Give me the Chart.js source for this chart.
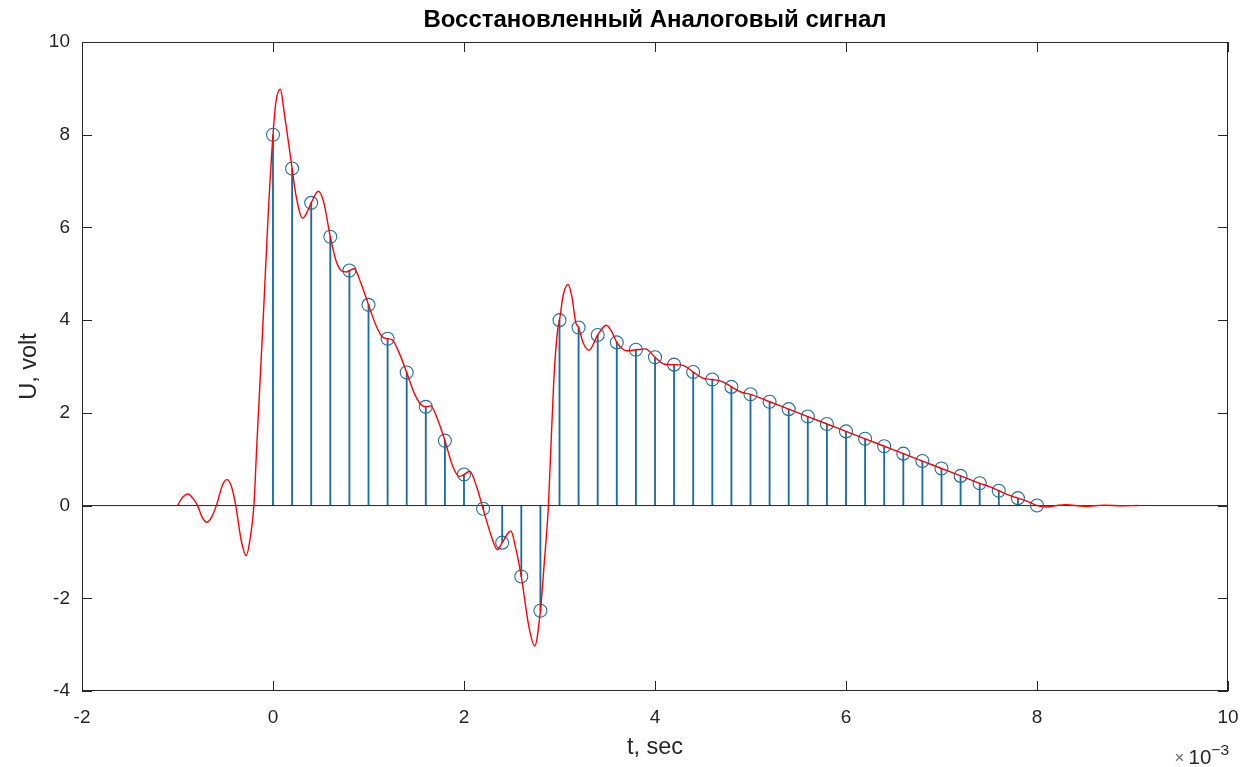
<!DOCTYPE html>
<html>
<head>
<meta charset="utf-8">
<title>Восстановленный Аналоговый сигнал</title>
<script src="https://cdn.jsdelivr.net/npm/chart.js@4.4.1/dist/chart.umd.min.js"></script>
<style>
  html, body { margin: 0; padding: 0; background: #fff; overflow: hidden; }
</style>
</head>
<body>
<canvas id="signalChart" width="1259" height="767"></canvas>
<script>
// Samples (t in ms, U in volts)
const sampleTimes = [0, 0.2, 0.4, 0.6, 0.8, 1, 1.2, 1.4, 1.6, 1.8, 2, 2.2, 2.4, 2.6, 2.8,
  3, 3.2, 3.4, 3.6, 3.8, 4, 4.2, 4.4, 4.6, 4.8, 5, 5.2, 5.4, 5.6, 5.8, 6, 6.2, 6.4, 6.6,
  6.8, 7, 7.2, 7.4, 7.6, 7.8, 8];
const sampleValues = [8, 7.27, 6.53, 5.8, 5.07, 4.33, 3.6, 2.87, 2.13, 1.4, 0.67, -0.07, -0.8, -1.53, -2.27,
  4, 3.84, 3.68, 3.52, 3.36, 3.2, 3.04, 2.88, 2.72, 2.56, 2.4, 2.24, 2.08, 1.92, 1.76, 1.6, 1.44, 1.28, 1.12,
  0.96, 0.8, 0.64, 0.48, 0.32, 0.16, 0];

// Reconstructed (red) curve
const curveTimes = [-1, -0.95, -0.89, -0.84, -0.79, -0.74, -0.69, -0.64, -0.59, -0.53, -0.48, -0.43, -0.39,
  -0.33, -0.28, -0.24, -0.2, -0.17, -0.1, -0.05, 0, 0.03, 0.077, 0.12, 0.2, 0.24, 0.31, 0.36, 0.4, 0.475,
  0.53, 0.6, 0.66, 0.72, 0.77, 0.8, 0.85, 0.92, 1, 1.08, 1.15, 1.2, 1.25, 1.32, 1.4, 1.48, 1.55, 1.6, 1.65,
  1.72, 1.8, 1.88, 1.95, 2, 2.06, 2.13, 2.2, 2.28, 2.35, 2.4, 2.49, 2.545, 2.6, 2.68, 2.74, 2.8, 2.84, 2.884,
  2.94, 2.98, 3, 3.04, 3.09, 3.13, 3.17, 3.2, 3.25, 3.31, 3.4, 3.49, 3.55, 3.6, 3.7, 3.8, 3.9, 4, 4.1, 4.2,
  4.3, 4.4, 4.5, 4.6, 4.7, 4.8, 4.9, 5, 5.2, 5.4, 5.6, 5.8, 6, 6.2, 6.4, 6.6, 6.8, 7, 7.2, 7.4, 7.5, 7.6,
  7.7, 7.8, 7.9, 8, 8.1, 8.2, 8.3, 8.5, 8.7, 8.9, 9.05];
const curveValues = [0, 0.17, 0.25, 0.16, 0, -0.26, -0.36, -0.24, 0.02, 0.44, 0.56, 0.38, 0,
  -0.78, -1.08, -0.72, 0, 1.28, 4.14, 6.29, 8, 8.7, 8.98, 8.44, 7.27, 6.7, 6.2, 6.34, 6.53, 6.78,
  6.55, 5.8, 5.28, 5.06, 5.04, 5.07, 5.11, 4.8, 4.33, 3.88, 3.63, 3.6, 3.57, 3.3, 2.87, 2.42, 2.18, 2.13, 2.15,
  1.88, 1.4, 0.86, 0.63, 0.67, 0.74, 0.42, -0.07, -0.62, -0.95, -0.8, -0.55, -0.95, -1.53, -2.62, -3.03, -2.27, -1.25, 0,
  2.7, 3.78, 4, 4.55, 4.77, 4.5, 3.95, 3.84, 3.5, 3.35, 3.68, 3.89, 3.74, 3.52, 3.34, 3.36, 3.38, 3.2, 3.05, 3.04,
  3.02, 2.88, 2.75, 2.72, 2.68, 2.56, 2.45, 2.4, 2.24, 2.08, 1.92, 1.76, 1.6, 1.44, 1.28, 1.12, 0.96, 0.8, 0.64, 0.48, 0.41, 0.32,
  0.23, 0.16, 0.09, 0, -0.03, 0, 0.02, -0.015, 0.01, -0.005, 0];

const xTicks = { min: -2, max: 10, step: 2 };
const yTicks = { min: -4, max: 10, step: 2 };

const stemColor = "#1b6f9e";
const curveColor = "#ff0000";
const axisColor = "#262626";
const fontFamily = "'Liberation Sans', Arial, Helvetica, sans-serif";

const samplePoints = sampleTimes.map((t, i) => ({ x: t, y: sampleValues[i] }));
const curvePoints = curveTimes.map((t, i) => ({ x: t, y: curveValues[i] }));

// MATLAB-like box with inward ticks and the x10^-3 exponent
const matlabAxes = {
  id: "matlabAxes",
  afterDatasetsDraw(chart) {
    const { ctx, chartArea: a, scales } = chart;
    const tickLen = 10;
    ctx.save();
    ctx.strokeStyle = axisColor;
    ctx.lineWidth = 1;
    ctx.beginPath();
    scales.x.ticks.forEach((t) => {
      const px = Math.round(scales.x.getPixelForValue(t.value)) + 0.5;
      ctx.moveTo(px, a.bottom);
      ctx.lineTo(px, a.bottom - tickLen);
      ctx.moveTo(px, a.top);
      ctx.lineTo(px, a.top + tickLen);
    });
    scales.y.ticks.forEach((t) => {
      const py = Math.round(scales.y.getPixelForValue(t.value)) + 0.5;
      ctx.moveTo(a.left, py);
      ctx.lineTo(a.left + tickLen, py);
      ctx.moveTo(a.right, py);
      ctx.lineTo(a.right - tickLen, py);
    });
    ctx.stroke();
    ctx.strokeRect(Math.round(a.left) + 0.5, Math.round(a.top) + 0.5,
      Math.round(a.width) - 1, Math.round(a.height) - 1);

    // exponent label
    ctx.fillStyle = axisColor;
    ctx.textBaseline = "alphabetic";
    ctx.textAlign = "right";
    const rightX = a.right + 1;
    ctx.font = "15.5px " + fontFamily;
    ctx.fillText("\u22123", rightX, 755);
    const supW = ctx.measureText("\u22123").width;
    ctx.font = "20.5px " + fontFamily;
    ctx.fillText("10", rightX - supW, 764);
    const tenW = ctx.measureText("10").width;
    ctx.fillStyle = "#6a6a6a";
    ctx.font = "17px " + fontFamily;
    ctx.fillText("\u00d7", rightX - supW - tenW - 4, 763);
    ctx.restore();
  },
};

const ctx = document.getElementById("signalChart").getContext("2d");
new Chart(ctx, {
  type: "scatter",
  data: {
    datasets: [
      {
        type: "line",
        label: "curve",
        data: curvePoints,
        borderColor: curveColor,
        borderWidth: 1.4,
        pointRadius: 0,
        cubicInterpolationMode: "monotone",
        fill: false,
        order: 0,
      },
      {
        type: "scatter",
        label: "samples",
        data: samplePoints,
        pointStyle: "circle",
        pointRadius: 6.5,
        pointBorderWidth: 1.1,
        borderColor: stemColor,
        backgroundColor: "rgba(0,0,0,0)",
        order: 1,
      },
      {
        type: "line",
        label: "baseline",
        data: [{ x: xTicks.min, y: 0 }, { x: xTicks.max, y: 0 }],
        borderColor: axisColor,
        borderWidth: 1,
        pointRadius: 0,
        fill: false,
        order: 2,
      },
      {
        type: "bar",
        label: "stems",
        data: samplePoints,
        backgroundColor: stemColor,
        borderWidth: 0,
        barThickness: 1.2,
        order: 3,
      },
    ],
  },
  options: {
    responsive: false,
    animation: false,
    layout: { padding: { left: 0, right: 31, top: 0, bottom: 0 } },
    plugins: {
      legend: { display: false },
      tooltip: { enabled: false },
      title: {
        display: true,
        fullSize: false,
        text: "Восстановленный Аналоговый сигнал",
        color: "#000",
        font: { family: fontFamily, size: 24, weight: "bold", lineHeight: 1.2 },
        padding: { top: 6, bottom: 7.2 },
      },
    },
    scales: {
      x: {
        type: "linear",
        min: xTicks.min,
        max: xTicks.max,
        offset: false,
        afterFit: (s) => { s.height = 76; },
        ticks: { stepSize: xTicks.step, color: axisColor, padding: 15, maxRotation: 0,
          font: { family: fontFamily, size: 19 } },
        grid: { display: false, drawTicks: false },
        border: { display: false },
        title: { display: true, text: "t, sec", color: axisColor,
          font: { family: fontFamily, size: 23.5, lineHeight: 1.2 }, padding: { top: 0, bottom: 4.9 } },
      },
      y: {
        type: "linear",
        min: yTicks.min,
        max: yTicks.max,
        afterFit: (s) => { s.width = 82; },
        ticks: { stepSize: yTicks.step, color: axisColor, padding: 12,
          font: { family: fontFamily, size: 19 } },
        grid: { display: false, drawTicks: false },
        border: { display: false },
        title: { display: true, text: "U, volt", color: axisColor,
          font: { family: fontFamily, size: 23.5, lineHeight: 1.2 }, padding: { top: 15.9, bottom: 0 } },
      },
    },
  },
  plugins: [matlabAxes],
});
</script>
</body>
</html>
